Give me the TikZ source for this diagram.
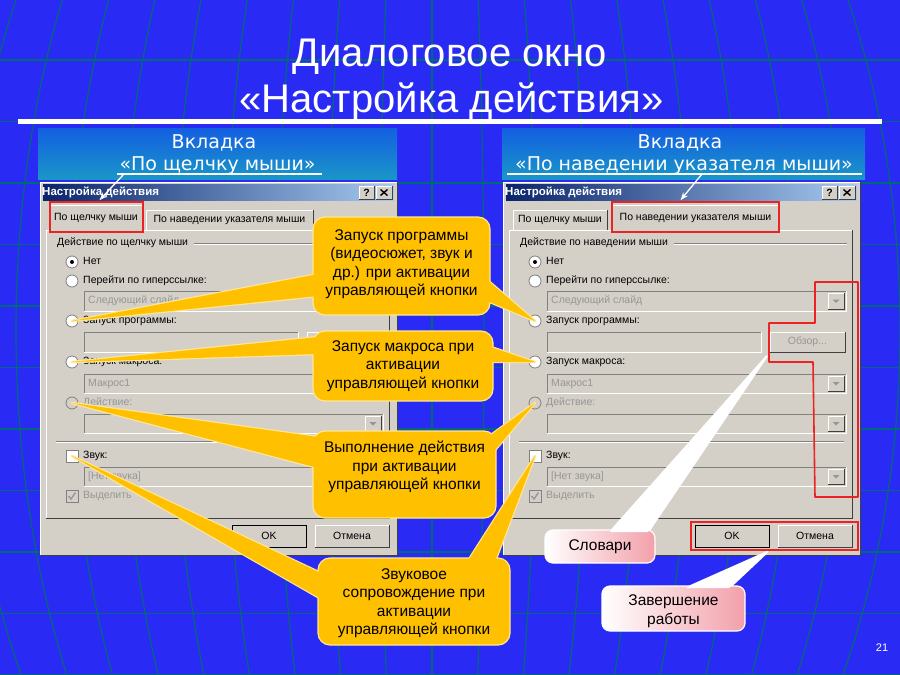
\documentclass[tikz,border=0pt]{standalone}
\usepackage{fontspec}
\setmainfont{Liberation Sans}
\newfontfamily\dejavu{DejaVu Sans}
\usetikzlibrary{calc,arrows.meta}
\definecolor{bgblue}{RGB}{42,42,245}
\definecolor{gridc}{RGB}{0,105,120}
\definecolor{dlg}{RGB}{212,208,200}
\definecolor{dlgdark}{RGB}{128,128,128}
\definecolor{dlgdarker}{RGB}{64,64,64}
\definecolor{navy}{RGB}{10,36,106}
\definecolor{tbarlight}{RGB}{166,202,240}
\definecolor{cyel}{RGB}{255,192,0}
\definecolor{cbord}{RGB}{255,230,150}
\definecolor{pinkc}{RGB}{242,160,170}
\definecolor{redc}{RGB}{235,35,35}
\definecolor{distext}{RGB}{150,150,150}
\definecolor{subtop}{RGB}{20,95,225}
\definecolor{subbot}{RGB}{25,150,200}

\newcommand\fntdlg{\fontsize{10.5}{12}\selectfont}
\newcommand\fntdlgt{\fontsize{11.5}{13}\selectfont\bfseries}
\newcommand\fntcl{\fontsize{15.5}{18.4}\selectfont}
\newcommand\fntsub{\dejavu\fontsize{19}{22}\selectfont}
\newcommand\fntttl{\fontsize{40}{46}\selectfont}

\newcommand\mkbtn[7]{%
  \node[btnbox, minimum width={(#4)-(#2)}, minimum height={(#5)-(#3)}, text=#7] (#1) at ({((#2)+(#4))/2},{((#3)+(#5))/2}) {#6};
  \draw[white] (#1.south west) |- (#1.north east);
  \draw[dlgdarker] (#1.south west) -| (#1.north east);
}
\newcommand\mkfield[7]{%
  \node[fieldbox, minimum width={(#4)-(#2)}, minimum height={(#5)-(#3)}] (#1) at ({((#2)+(#4))/2},{((#3)+(#5))/2}) {};
  \draw[dlgdark] (#1.south west) |- (#1.north east);
  \draw[white] (#1.south west) -| (#1.north east);
  \node[distxt] (#1t) at ({(#2)+4},{((#3)+(#5))/2}) {#6};
  \ifnum#7=1
    \mkbtn{#1b}{(#4)-18}{(#3)+2}{(#4)-2}{(#5)-2}{}{black}
    \fill[distext] ({(#4)-13.5},{((#3)+(#5))/2-1.5}) -- ++(7,0) -- ++(-3.5,3.5) -- cycle;
  \fi
}
\newcommand\mktab[6]{%
  \node[btnbox, minimum width={(#4)-(#2)}, minimum height={(#5)-(#3)}] (#1) at ({((#2)+(#4))/2},{((#3)+(#5))/2}) {#6};
  \draw[white] (#1.south west) |- (#1.north east);
  \draw[dlgdarker] (#1.north east) -- (#1.south east);
}
% #1 prefix, #2 group label, #3 selected tab, #4 browse button text
\newcommand\mkdialog[4]{%
  \node[dlgframe, minimum width=357, minimum height=373] (#1win) at (218.5,368.5) {};
  \draw[white] (#1win.south west) |- (#1win.north east);
  \draw[dlgdarker] (#1win.south west) -| (#1win.north east);
  \node[tbar, minimum width=351, minimum height=16] (#1bar) at (218.5,192.5) {};
  \node[dtitle] (#1title) at (42,192.5) {Настройка действия};
  \mkbtn{#1help}{359}{186}{374}{199}{\bfseries ?}{black}
  \mkbtn{#1close}{376}{186}{392}{199}{}{black}
  \draw[black, line width=1.4pt] (380.5,189.5) -- (387.5,195.5) (380.5,195.5) -- (387.5,189.5);
  \node[panelbox, minimum width=343, minimum height=288] (#1panel) at (217.5,374) {};
  \draw[white] (#1panel.south west) |- (#1panel.north east);
  \draw[dlgdarker] (#1panel.south west) -| (#1panel.north east);
  \ifnum#3=1
    \mktab{#1tabb}{146}{210}{313}{230}{По наведении указателя мыши}
    \mktab{#1taba}{50}{205}{142}{231}{По щелчку мыши}
    \node[redframe, minimum width=93, minimum height=30] (#1red) at (96.5,217) {};
  \else
    \mktab{#1taba}{50}{210}{144}{230}{По щелчку мыши}
    \mktab{#1tabb}{149}{205}{316}{231}{По наведении указателя мыши}
    \node[redframe, minimum width=167, minimum height=30] (#1red) at (232.5,217) {};
  \fi
  \node[dtxt] (#1grp) at (57,243) {#2};
  \draw[dlgdark] (#1grp.mid east) ++(6,0) -- (384,243);
  \draw[white] (#1grp.mid east) ++(6,1) -- (384,244);
  \node[radio] (#1r1) at (72,262) {};
  \fill[black] (#1r1.center) circle (2);
  \node[dtxt] (#1l1) at (83,262) {Нет};
  \node[radio] (#1r2) at (72,281) {};
  \node[dtxt] (#1l2) at (83,281) {Перейти по гиперссылке:};
  \mkfield{#1f1}{84}{291}{383}{311}{Следующий слайд}{1}
  \node[radio] (#1r3) at (72,321) {};
  \node[dtxt] (#1l3) at (83,321) {Запуск программы:};
  \mkfield{#1f2}{84}{332}{298}{352}{}{0}
  \mkbtn{#1browse}{307}{332}{382}{352}{#4}{distext}
  \node[radio] (#1r4) at (72,362) {};
  \node[dtxt] (#1l4) at (83,362) {Запуск макроса:};
  \mkfield{#1f3}{84}{374}{383}{393}{Макрос1}{1}
  \node[radio, fill=dlg] (#1r5) at (72,403) {};
  \node[distxt] (#1l5) at (83,403) {Действие:};
  \mkfield{#1f4}{84}{414}{383}{433}{}{1}
  \draw[dlgdark] (56,441) -- (381,441);
  \draw[white] (56,442) -- (381,442);
  \node[chk] (#1c1) at (72,456) {};
  \node[dtxt] (#1l6) at (83,456) {Звук:};
  \mkfield{#1f5}{84}{467}{383}{486}{[Нет звука]}{1}
  \node[chk, fill=dlg] (#1c2) at (72,496) {};
  \draw[distext, line width=1.4pt] (68.5,496) -- (71,499) -- (75.5,492.5);
  \node[distxt] (#1l7) at (83,496) {Выделить};
  \mkbtn{#1ok}{232}{525}{306}{547}{OK}{black}
  \draw[black] (#1ok.south west) rectangle (#1ok.north east);
  \mkbtn{#1cancel}{315}{525}{389}{547}{Отмена}{black}
}

\begin{document}
\begin{tikzpicture}[x=1pt,y=-1pt,
  dtxt/.style={anchor=mid west, inner sep=0pt, font=\fntdlg, text=black},
  distxt/.style={dtxt, text=distext},
  dtitle/.style={anchor=mid west, inner sep=0pt, font=\fntdlgt, text=white},
  radio/.style={circle, minimum size=12pt, inner sep=0pt, fill=white, draw=dlgdark, line width=0.8pt},
  chk/.style={rectangle, minimum size=12pt, inner sep=0pt, fill=white, draw=dlgdark, line width=0.8pt},
  btnbox/.style={rectangle, fill=dlg, inner sep=0pt, font=\fntdlg},
  fieldbox/.style={rectangle, fill=dlg, inner sep=0pt},
  dlgframe/.style={rectangle, fill=dlg, inner sep=0pt},
  panelbox/.style={rectangle, inner sep=0pt},
  tbar/.style={rectangle, inner sep=0pt, left color=navy, right color=tbarlight},
  redframe/.style={rectangle, draw=redc, line width=1.6pt, inner sep=0pt},
  ybox/.style={rectangle, rounded corners=12pt, fill=cyel, draw=cbord, line width=1.2pt, inner sep=0pt},
  ytxt/.style={align=center, font=\fntcl, text=black, inner sep=0pt},
  wbox/.style={rectangle, rounded corners=8pt, left color=white, middle color=white!92!pinkc, right color=pinkc, draw=white, line width=1.2pt, inner sep=0pt},
  wedgeY/.style={fill=cyel, draw=cbord, line width=2.4pt, line join=round},
  wedgeW/.style={fill=white, draw=white, line width=2pt, line join=round},
  ttl/.style={anchor=base, inner sep=0pt, font=\fntttl, text=white},
  subtxt/.style={anchor=base, inner sep=0pt, font=\fntsub, text=white},
  subbox/.style={rectangle, inner sep=0pt, top color=subtop, bottom color=subbot},
  grid/.style={gridc, line width=1.2pt},
  uline/.style={white, line width=1.3pt}
]
\useasboundingbox (0,0) rectangle (900,675);
\fill[bgblue] (0,0) rectangle (900,675);
\foreach \k in {0,...,10} {\draw[grid] (0,{60+61.5*\k}) -- (900,{60+61.5*\k});}
\foreach \k in {-9,...,9} {\draw[grid] plot[domain=0:675, samples=40, variable=\t, smooth] ({432+52*\k*sqrt(1-((\t-330)/720)^2)},\t);}
\fill[white] (18,119) rectangle (882,124);

% title
\node[ttl] (t1) at (449.5,66) {Диалоговое окно};
\node[ttl] (t2) at (451.5,112) {«Настройка действия»};

% subtitles
\node[subbox, minimum width=359, minimum height=51] (sb1) at (217.5,153.5) {};
\node[subbox, minimum width=363, minimum height=51] (sb2) at (683.5,153.5) {};
\node[subtxt] (s1a) at (214,148) {Вкладка};
\node[subtxt] (s1b) at (217.5,170) {«По щелчку мыши»};
\node[subtxt] (s2a) at (680,148) {Вкладка};
\node[subtxt] (s2b) at (684,170) {«По наведении указателя мыши»};

% dialogs
\mkdialog{L}{Действие по щелчку мыши}{1}{}
\begin{scope}[xshift=463pt]
\mkdialog{R}{Действие по наведении мыши}{2}{Обзор...}
\end{scope}

% red marks on right dialog
\draw[redc, line width=1.6pt, line join=round] (815,282) -- (858,282) -- (858,497) -- (815,497) -- (813,362) -- (769,362) -- (769,323) -- (815,323) -- cycle;
\node[redframe, minimum width=167, minimum height=28] (okframe) at (774.5,536) {};

% underlines and arrows
\coordinate (u1a) at (117,174); \coordinate (u1b) at (322,174); \coordinate (u1s) at (124,174);
\coordinate (u2a) at (507,174); \coordinate (u2b) at (862,174); \coordinate (u2s) at (702,174);
\draw[uline] (u1a) -- (u1b);
\draw[uline] (u2a) -- (u2b);
\draw[uline, -{Stealth[length=8pt,width=6pt]}] (u1s) -- ($(Lred.north)+(3,-1)$);
\draw[uline, -{Stealth[length=8pt,width=6pt]}] (u2s) -- ($(Rred.north)+(-15,-1)$);

% callout 1
\coordinate (c1la) at (318,274); \coordinate (c1lb) at (318,296);
\coordinate (c1ra) at (485,278); \coordinate (c1rb) at (485,300);
\path[wedgeY] (c1la) -- (Lr3.center) -- (c1lb) -- cycle (c1ra) -- (Rr3.center) -- (c1rb) -- cycle;
\node[ybox, minimum width=177, minimum height=98] (c1) at (401.5,266) {};
\fill[cyel] (c1la) -- (Lr3.center) -- (c1lb) -- cycle (c1ra) -- (Rr3.center) -- (c1rb) -- cycle;
\node[ytxt] (c1t) at (401.5,264) {Запуск программы\\(видеосюжет, звук и\\др.) при активации\\управляющей кнопки};

% callout 2
\coordinate (c2la) at (318,337); \coordinate (c2lb) at (318,354);
\coordinate (c2ra) at (488,346); \coordinate (c2rb) at (488,362);
\path[wedgeY] (c2la) -- (Lr4.center) -- (c2lb) -- cycle (c2ra) -- (Rr4.center) -- (c2rb) -- cycle;
\node[ybox, minimum width=180, minimum height=70] (c2) at (403,366) {};
\fill[cyel] (c2la) -- (Lr4.center) -- (c2lb) -- cycle (c2ra) -- (Rr4.center) -- (c2rb) -- cycle;
\node[ytxt] (c2t) at (403,366) {Запуск макроса при\\активации\\управляющей кнопки};

% callout 3
\coordinate (c3la) at (318,437); \coordinate (c3lb) at (318,468);
\coordinate (c3ra) at (488,437); \coordinate (c3rb) at (490,456);
\path[wedgeY] (c3la) -- (Lr5.center) -- (c3lb) -- cycle (c3ra) -- (Rr5.center) -- (c3rb) -- cycle;
\node[ybox, minimum width=183, minimum height=87] (c3) at (404.5,474.5) {};
\fill[cyel] (c3la) -- (Lr5.center) -- (c3lb) -- cycle (c3ra) -- (Rr5.center) -- (c3rb) -- cycle;
\node[ytxt] (c3t) at (404.5,467) {Выполнение действия\\при активации\\управляющей кнопки};

% callout 4
\coordinate (c4la) at (323,574); \coordinate (c4lb) at (323,600);
\coordinate (c4ra) at (466,564); \coordinate (c4rb) at (494,564);
\path[wedgeY] (c4la) -- (Lc1.center) -- (c4lb) -- cycle (c4ra) -- (Rc1.center) -- (c4rb) -- cycle;
\node[ybox, minimum width=192, minimum height=87] (c4) at (414,601.5) {};
\fill[cyel] (c4la) -- (Lc1.center) -- (c4lb) -- cycle (c4ra) -- (Rc1.center) -- (c4rb) -- cycle;
\node[ytxt] (c4t) at (414,603) {Звуковое\\сопровождение при\\активации\\управляющей кнопки};

% callout 5
\coordinate (c5a) at (610,532); \coordinate (c5b) at (648,532);
\coordinate (c5tip) at ($(Rbrowse.south west)+(-3,4)$);
\path[wedgeW] (c5a) -- (c5tip) -- (c5b) -- cycle;
\node[wbox, minimum width=110, minimum height=33] (c5) at (600,546.5) {};
\fill[white] (c5a) -- (c5tip) -- (c5b) -- cycle;
\node[ytxt] (c5t) at (600,547) {Словари};

% callout 6
\coordinate (c6a) at (686,588); \coordinate (c6b) at (729,588);
\coordinate (c6tip) at ($(okframe.south)+(-7,1)$);
\path[wedgeW] (c6a) -- (c6tip) -- (c6b) -- cycle;
\node[wbox, minimum width=143, minimum height=45] (c6) at (673.5,608.5) {};
\fill[white] (c6a) -- (c6tip) -- (c6b) -- cycle;
\node[ytxt] (c6t) at (673.5,611) {Завершение\\работы};

\node[font=\fontsize{11}{13}\selectfont, text=white, inner sep=0pt] (pg) at (882,648) {21};
\end{tikzpicture}
\end{document}
